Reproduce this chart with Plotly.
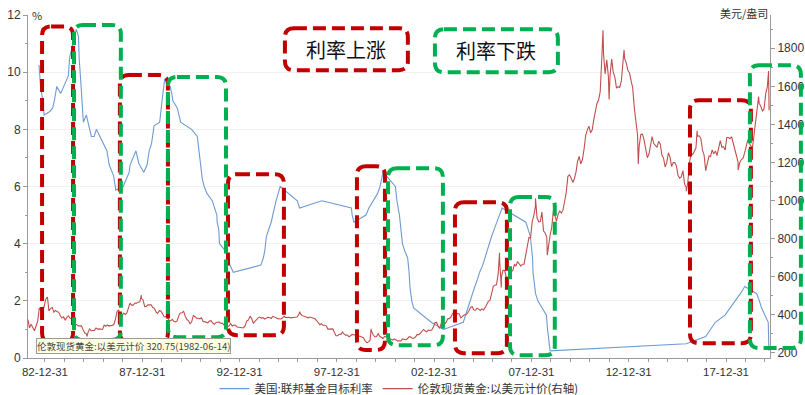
import pandas as pd
import plotly.graph_objects as go

# ---- Fed funds target rate (%), value at each change date ----
fed_dates = [
    "1982-09-10", "1982-10-08", "1982-11-19", "1982-12-14", "1983-03-31", "1983-05-25",
    "1983-06-24", "1983-07-20", "1983-08-10", "1983-10-19", "1983-11-16", "1984-03-15",
    "1984-04-05", "1984-06-14", "1984-07-11", "1984-08-09", "1984-09-20", "1984-10-02",
    "1984-11-08", "1984-11-23", "1984-12-20", "1985-02-14", "1985-05-20", "1985-07-11",
    "1985-08-21", "1986-03-07", "1986-04-21", "1986-07-11", "1986-08-21", "1987-01-08",
    "1987-04-30", "1987-05-15", "1987-09-04", "1987-10-28", "1988-01-28", "1988-03-30",
    "1988-05-09", "1988-06-22", "1988-08-09", "1988-11-22", "1988-12-15", "1989-01-05",
    "1989-02-24", "1989-06-06", "1989-07-07", "1989-07-27", "1989-10-18", "1989-12-20",
    "1990-07-13", "1990-10-29", "1990-11-14", "1990-12-18", "1991-01-09", "1991-02-01",
    "1991-03-08", "1991-04-30", "1991-08-06", "1991-09-13", "1991-10-31", "1991-11-06",
    "1991-12-06", "1991-12-20", "1992-04-09", "1992-07-02", "1992-09-04", "1994-02-04",
    "1994-03-22", "1994-04-18", "1994-05-17", "1994-08-16", "1994-11-15", "1995-02-01",
    "1995-07-06", "1995-12-19", "1996-01-31", "1997-03-25", "1998-09-29", "1998-10-15",
    "1998-11-17", "1999-06-30", "1999-08-24", "1999-11-16", "2000-02-02", "2000-03-21",
    "2000-05-16", "2001-01-03", "2001-01-31", "2001-03-20", "2001-04-18", "2001-05-15",
    "2001-06-27", "2001-08-21", "2001-09-17", "2001-10-02", "2001-11-06", "2001-12-11",
    "2002-11-06", "2003-06-25", "2004-06-30", "2004-08-10", "2004-09-21", "2004-11-10",
    "2004-12-14", "2005-02-02", "2005-03-22", "2005-05-03", "2005-06-30", "2005-08-09",
    "2005-09-20", "2005-11-01", "2005-12-13", "2006-01-31", "2006-03-28", "2006-05-10",
    "2006-06-29", "2007-09-18", "2007-10-31", "2007-12-11", "2008-01-22", "2008-01-30",
    "2008-03-18", "2008-04-30", "2008-10-08", "2008-10-29", "2008-12-16", "2015-12-16",
    "2016-12-14", "2017-03-15", "2017-06-14", "2017-12-13", "2018-03-21", "2018-06-13",
    "2018-09-26", "2018-12-19", "2019-07-31", "2019-09-18", "2019-10-30", "2020-03-03",
    "2020-03-15",
]
fed_rates = [
    10.25, 9.5, 9.0, 8.5, 8.625, 8.75,
    9.0, 9.375, 9.5, 9.25, 9.375, 9.875,
    10.5, 11.0, 11.25, 11.5, 11.25, 10.5,
    9.5, 9.0, 8.25, 8.5, 7.75, 7.75,
    8.0, 7.25, 6.75, 6.375, 5.875, 6.0,
    6.5, 6.75, 7.25, 6.8, 6.5, 6.75,
    7.25, 7.5, 8.125, 8.25, 8.75, 9.0,
    9.75, 9.5, 9.25, 9.0, 8.75, 8.25,
    8.0, 7.75, 7.5, 7.0, 6.75, 6.25,
    6.0, 5.75, 5.5, 5.25, 5.0, 4.75,
    4.5, 4.0, 3.75, 3.25, 3.0, 3.25,
    3.5, 3.75, 4.25, 4.75, 5.5, 6.0,
    5.75, 5.5, 5.25, 5.5, 5.25, 5.0,
    4.75, 5.0, 5.25, 5.5, 5.75, 6.0,
    6.5, 6.0, 5.5, 5.0, 4.5, 4.0,
    3.75, 3.5, 3.0, 2.5, 2.0, 1.75,
    1.25, 1.0, 1.25, 1.5, 1.75, 2.0,
    2.25, 2.5, 2.75, 3.0, 3.25, 3.5,
    3.75, 4.0, 4.25, 4.5, 4.75, 5.0,
    5.25, 4.75, 4.5, 4.25, 3.5, 3.0,
    2.25, 2.0, 1.5, 1.0, 0.25, 0.5,
    0.75, 1.0, 1.25, 1.5, 1.75, 2.0,
    2.25, 2.5, 2.25, 2.0, 1.75, 1.25,
    0.25,
]

# ---- London spot gold (USD/oz), monthly levels ----
gold_1982_1989 = [  # from 1982-02
    374, 330, 350, 334, 315, 339, 364, 435, 422, 414, 444,
    481, 492, 420, 432, 438, 413, 422, 416, 412, 394, 382, 388,
    370, 386, 394, 381, 378, 378, 348, 348, 341, 340, 341, 320,
    303, 299, 304, 325, 316, 317, 317, 330, 324, 325, 325, 322,
    345, 339, 346, 340, 342, 343, 348, 376, 418, 424, 395, 391,
    408, 401, 408, 438, 460, 450, 450, 461, 460, 465, 467, 486,
    477, 442, 443, 452, 451, 452, 437, 433, 413, 406, 421, 419,
    404, 388, 390, 384, 371, 367, 375, 365, 362, 367, 394, 409,
]
gold_1990s = [
    410, 417, 393, 374, 369, 352, 362, 395, 389, 381, 381, 378,
    383, 364, 363, 358, 357, 366, 368, 356, 349, 359, 360, 361,
    354, 354, 345, 338, 337, 340, 353, 340, 345, 344, 335, 334,
    329, 330, 330, 342, 367, 372, 392, 379, 355, 364, 374, 383,
    387, 382, 384, 377, 381, 386, 385, 380, 391, 389, 384, 379,
    379, 377, 382, 391, 385, 387, 386, 383, 383, 383, 386, 387,
    400, 405, 396, 393, 392, 385, 383, 387, 383, 381, 378, 369,
    355, 347, 352, 344, 344, 341, 324, 324, 323, 325, 306, 289,
    289, 297, 296, 308, 299, 292, 293, 284, 289, 296, 294, 291,
    287, 287, 286, 282, 277, 262, 256, 257, 264, 311, 293, 283,
]
gold_2000s = [
    285, 300, 286, 280, 275, 286, 282, 275, 273, 270, 266, 272,
    266, 262, 263, 261, 272, 270, 268, 273, 283, 283, 276, 276,
    282, 296, 294, 302, 314, 322, 314, 310, 319, 317, 319, 333,
    357, 359, 340, 328, 355, 356, 351, 360, 379, 379, 389, 407,
    414, 405, 406, 404, 383, 392, 398, 400, 406, 420, 439, 442,
    424, 423, 434, 429, 422, 430, 424, 438, 456, 470, 476, 510,
    549, 555, 557, 610, 676, 596, 633, 632, 598, 586, 627, 629,
    631, 665, 655, 679, 667, 655, 665, 665, 713, 754, 806, 803,
    889, 922, 968, 909, 888, 889, 939, 839, 829, 806, 760, 816,
    858, 943, 924, 890, 928, 945, 934, 949, 996, 1043, 1127, 1135,
]
gold_2010s = [
    1118, 1095, 1113, 1148, 1205, 1232, 1193, 1215, 1271, 1342, 1370, 1391,
    1356, 1372, 1424, 1474, 1510, 1529, 1573, 1756, 1772, 1665, 1739, 1652,
    1656, 1743, 1675, 1649, 1591, 1598, 1594, 1630, 1744, 1747, 1722, 1685,
    1671, 1627, 1593, 1487, 1414, 1343, 1286, 1347, 1349, 1317, 1275, 1225,
    1244, 1300, 1336, 1299, 1288, 1279, 1311, 1296, 1239, 1222, 1176, 1200,
    1251, 1227, 1179, 1199, 1199, 1181, 1131, 1117, 1125, 1157, 1086, 1068,
    1097, 1200, 1246, 1242, 1260, 1276, 1337, 1340, 1326, 1266, 1238, 1157,
    1192, 1234, 1231, 1266, 1246, 1260, 1236, 1283, 1315, 1280, 1283, 1265,
    1331, 1331, 1325, 1335, 1303, 1282, 1238, 1202, 1199, 1215, 1221, 1250,
    1291, 1320, 1300, 1285, 1284, 1359, 1413, 1500, 1510, 1495, 1471, 1480,
]
gold_2020 = [1560, 1597]

# Daily highs and lows between the monthly points
gold_extreme_dates = [
    "1982-06-14", "1983-02-15", "1985-02-25", "1987-12-14", "1996-02-02", "1999-07-20",
    "1999-10-05", "2006-05-12", "2006-06-14", "2008-03-17", "2008-10-24", "2011-09-05",
    "2011-12-29", "2012-10-04", "2013-06-28", "2015-12-17", "2016-07-06", "2018-08-16",
    "2019-09-04", "2020-03-09", "2020-03-19", "2020-03-20",
]
gold_extreme_values = [
    320.75, 509, 285, 502, 415, 252,
    325, 725, 543, 1011, 713, 1895,
    1531, 1791, 1192, 1049, 1366, 1160,
    1546, 1680, 1474, 1498,
]

monthly_values = gold_1982_1989 + gold_1990s + gold_2000s + gold_2010s + gold_2020
monthly_dates = pd.date_range("1982-02-01", periods=len(monthly_values), freq="MS") + pd.Timedelta(days=14)
gold = pd.concat([
    pd.Series(monthly_values, index=monthly_dates, dtype=float),
    pd.Series(gold_extreme_values, index=pd.to_datetime(gold_extreme_dates), dtype=float),
]).sort_index()
gold = gold[~gold.index.duplicated(keep="last")]

# ---- Layout geometry ----
W, H = 805, 395
M_L, M_R, M_T, M_B = 28, 35, 15, 37
PLOT_W, PLOT_H = W - M_L - M_R, H - M_T - M_B
X_START, X_END = pd.Timestamp("1982-02-15"), pd.Timestamp("2020-04-05")
Y_MIN, Y_MAX = 0, 12
Y2_MIN, Y2_MAX = 172, 1975

RED, GREEN = "#c00000", "#00b050"

# Highlighted periods: (start, end, bottom, top) in left-axis units
rise_boxes = [
    ("1982-11-06", "1984-06-10", 0.56, 11.6),
    ("1986-11-06", "1989-04-26", 0.56, 9.9),
    ("1992-05-27", "1995-04-12", 0.80, 6.43),
    ("1999-01-12", "2000-06-21", 0.28, 6.71),
    ("2004-01-26", "2006-09-27", 0.17, 5.45),
    ("2016-02-24", "2019-04-12", 0.52, 9.02),
]
fall_boxes = [
    ("1984-06-28", "1986-11-24", 0.63, 11.65),
    ("1989-04-26", "1992-04-20", 0.73, 9.83),
    ("2000-08-18", "2003-06-14", 0.45, 6.64),
    ("2006-11-24", "2009-03-14", 0.10, 5.63),
    ("2019-03-25", "2021-11-06", 0.35, 10.24),
]
key_boxes = [
    ("1995-05-01", "2001-08-25", 10.07, 11.54, RED, "利率上涨"),
    ("2003-01-15", "2009-05-11", 10.00, 11.50, GREEN, "利率下跌"),
]


def fx(date):
    return (pd.Timestamp(date) - X_START) / (X_END - X_START)


def fy(v):
    return (v - Y_MIN) / (Y_MAX - Y_MIN)


def rounded_box(d0, d1, v0, v1, color, r=9):
    x0, x1, y0, y1 = fx(d0), fx(d1), fy(v0), fy(v1)
    rx, ry = r / PLOT_W, r / PLOT_H
    path = (
        f"M{x0 + rx},{y1} L{x1 - rx},{y1} Q{x1},{y1} {x1},{y1 - ry} "
        f"L{x1},{y0 + ry} Q{x1},{y0} {x1 - rx},{y0} "
        f"L{x0 + rx},{y0} Q{x0},{y0} {x0},{y0 + ry} "
        f"L{x0},{y1 - ry} Q{x0},{y1} {x0 + rx},{y1} Z"
    )
    return dict(type="path", xref="paper", yref="paper", path=path,
                line=dict(color=color, width=4, dash="13px,6px"), layer="above")


fig = go.Figure()
fig.add_trace(go.Scatter(
    x=pd.to_datetime(fed_dates), y=fed_rates, mode="lines",
    name="美国:联邦基金目标利率", line=dict(color="#6e9bd3", width=1.1),
))
fig.add_trace(go.Scatter(
    x=gold.index, y=gold.values, mode="lines", yaxis="y2",
    name="伦敦现货黄金:以美元计价(右轴)", line=dict(color="#c0504d", width=1.1),
))

shapes = []
for d0, d1, v0, v1 in rise_boxes:
    shapes.append(rounded_box(d0, d1, v0, v1, RED))
for d0, d1, v0, v1 in fall_boxes:
    shapes.append(rounded_box(d0, d1, v0, v1, GREEN))
annotations = []
for d0, d1, v0, v1, color, label in key_boxes:
    shapes.append(rounded_box(d0, d1, v0, v1, color))
    annotations.append(dict(
        xref="paper", yref="paper", x=(fx(d0) + fx(d1)) / 2, y=(fy(v0) + fy(v1)) / 2,
        text=label, showarrow=False, xanchor="center", yanchor="middle",
        font=dict(family="Noto Sans CJK SC", size=20, color="#111111"),
    ))

annotations += [
    dict(xref="paper", yref="paper", x=0.0, y=1.0, xshift=2, text="%", showarrow=False,
         xanchor="left", yanchor="middle", font=dict(family="Noto Sans CJK SC", size=11, color="#333333")),
    dict(xref="paper", yref="paper", x=1.0, y=1.0, yshift=2, text="美元/盎司", showarrow=False,
         xanchor="right", yanchor="middle", font=dict(family="Noto Sans CJK SC", size=11, color="#333333")),
    dict(xref="paper", yref="paper", x=fx("1982-07-10"), y=fy(0.42),
         text="伦敦现货黄金:以美元计价 320.75(1982-06-14)", showarrow=False,
         xanchor="left", yanchor="middle", bgcolor="#ffffe1", bordercolor="#9a9a9a",
         borderwidth=1, borderpad=0,
         font=dict(family="Noto Sans CJK SC", size=9.5, color="#444444")),
]

tick_dates = pd.to_datetime([f"{y}-12-31" for y in range(1982, 2018, 5)])

fig.update_layout(
    width=W, height=H,
    margin=dict(l=M_L, r=M_R, t=M_T, b=M_B, autoexpand=False),
    paper_bgcolor="white", plot_bgcolor="white",
    font=dict(family="Liberation Sans, Noto Sans CJK SC", size=12, color="#333333"),
    showlegend=True,
    legend=dict(orientation="h", x=0.5, xanchor="center", y=-0.047, yanchor="top",
                font=dict(family="Noto Sans CJK SC", size=11.5, color="#333333"),
                itemwidth=30, tracegroupgap=0, bgcolor="rgba(0,0,0,0)"),
    xaxis=dict(
        type="date", range=[X_START, X_END], tickvals=tick_dates, tickformat="%y-%m-%d",
        tickfont=dict(size=11.5),
        ticks="outside", ticklen=3, tickcolor="#9a9a9a", showline=True, linecolor="#9a9a9a",
        showgrid=False, zeroline=False, automargin=False,
        minor=dict(ticks="outside", ticklen=3, tickcolor="#9a9a9a", dtick="M12",
                   tick0="1982-12-31", showgrid=False),
    ),
    yaxis=dict(
        range=[Y_MIN, Y_MAX], dtick=2, ticks="outside", ticklen=4, tickcolor="#9a9a9a",
        showline=True, linecolor="#9a9a9a", showgrid=True, gridcolor="#f1f1f1",
        zeroline=False, automargin=False,
        minor=dict(ticks="outside", ticklen=2, dtick=1, tickcolor="#9a9a9a"),
    ),
    yaxis2=dict(
        range=[Y2_MIN, Y2_MAX], overlaying="y", side="right",
        tickvals=list(range(200, 1801, 200)), ticks="outside", ticklen=4, tickcolor="#9a9a9a",
        showline=True, linecolor="#9a9a9a", showgrid=False, zeroline=False, automargin=False,
        minor=dict(ticks="outside", ticklen=2, dtick=100, tickcolor="#9a9a9a"),
    ),
    shapes=shapes,
    annotations=annotations,
)

fig.write_html("out.html")
